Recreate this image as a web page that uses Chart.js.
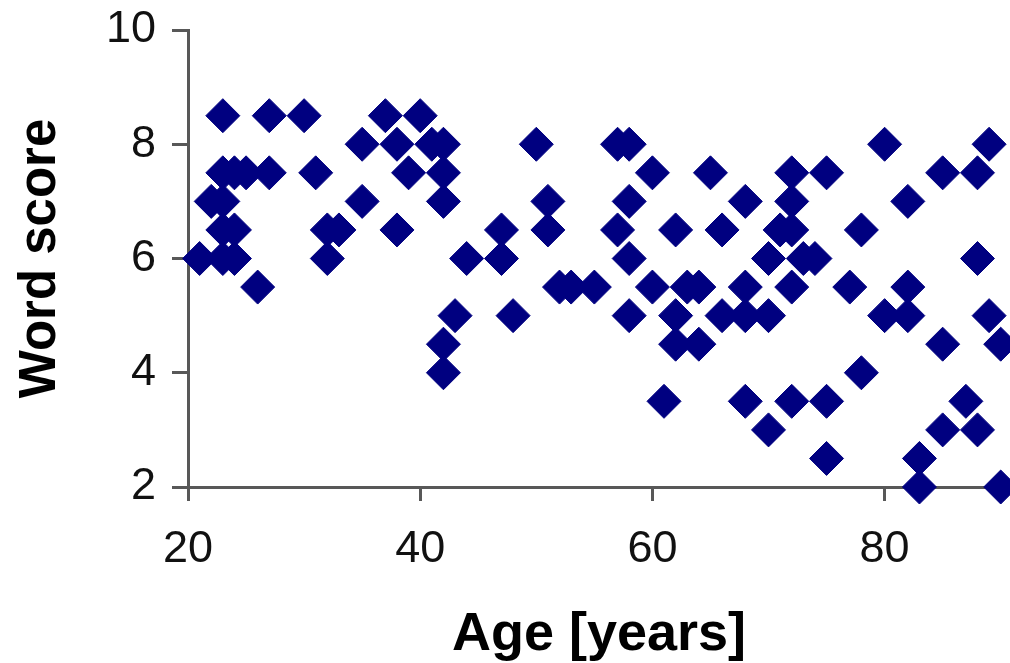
<!DOCTYPE html>
<html>
<head>
<meta charset="utf-8">
<script src="https://cdn.jsdelivr.net/npm/chart.js@4/dist/chart.umd.min.js"></script>
<style>
  html, body { margin: 0; padding: 0; background: #ffffff; }
  #wrap { width: 1010px; height: 663px; position: relative; }
</style>
</head>
<body>
<div id="wrap"><canvas id="c"></canvas></div>
<script>
// ---- data ----
const ages = [
  21, 23, 24, 23, 24, 22, 23, 23, 24, 25, 27, 23, 27, 30, 26, 31, 32, 33, 32,
  35, 35, 37, 40, 38, 38, 39, 41, 42, 42, 42, 42, 42, 43, 44, 47, 47, 48,
  50, 51, 51, 52, 53, 55, 57, 58, 57, 58, 58, 58, 60, 60, 61, 62, 62, 62,
  63, 64, 64, 65, 66, 66, 68, 68, 68, 68, 70, 70, 70, 71, 72, 72, 72, 72, 72,
  73, 74, 75, 75, 75, 77, 78, 78, 80, 80, 82, 82, 82, 83, 83, 85, 85, 85,
  87, 88, 88, 88, 89, 89, 90, 90
];
const wordScores = [
  6, 6, 6, 6.5, 6.5, 7, 7, 7.5, 7.5, 7.5, 7.5, 8.5, 8.5, 8.5, 5.5, 7.5, 6.5, 6.5, 6,
  8, 7, 8.5, 8.5, 8, 6.5, 7.5, 8, 8, 7.5, 7, 4.5, 4, 5, 6, 6.5, 6, 5,
  8, 7, 6.5, 5.5, 5.5, 5.5, 8, 8, 6.5, 7, 6, 5, 7.5, 5.5, 3.5, 6.5, 5, 4.5,
  5.5, 5.5, 4.5, 7.5, 6.5, 5, 7, 5.5, 5, 3.5, 6, 5, 3, 6.5, 6.5, 7.5, 7, 5.5, 3.5,
  6, 6, 7.5, 3.5, 2.5, 5.5, 6.5, 4, 8, 5, 7, 5.5, 5, 2.5, 2, 7.5, 4.5, 3,
  3.5, 7.5, 6, 3, 8, 5, 4.5, 2
];
const xTicks = [20, 40, 60, 80];
const yTicks = [2, 4, 6, 8, 10];
const xTitle = 'Age [years]';
const yTitle = 'Word score';

const points = ages.map((a, i) => ({ x: a, y: wordScores[i] }));

const axisColor = '#585858';
const tickFamily = "'Liberation Sans', Arial, sans-serif";

new Chart(document.getElementById('c'), {
  type: 'scatter',
  data: {
    datasets: [{
      data: points,
      pointStyle: 'rectRot',
      pointRadius: 17,
      pointHoverRadius: 17,
      backgroundColor: '#000080',
      borderColor: '#000080',
      borderWidth: 1,
      clip: false
    }]
  },
  options: {
    responsive: true,
    maintainAspectRatio: false,
    animation: false,
    events: [],
    layout: { autoPadding: false, padding: { top: 30, right: 0, bottom: 0, left: 0 } },
    plugins: { legend: { display: false }, tooltip: { enabled: false } },
    scales: {
      x: {
        type: 'linear',
        min: 20,
        max: 90.8,
        afterBuildTicks: s => { s.ticks = xTicks.map(v => ({ value: v })); },
        afterFit: s => { s.height = 176; },
        grid: { display: true, drawOnChartArea: false, drawTicks: true, tickLength: 14, tickColor: axisColor, tickWidth: 3 },
        border: { display: true, color: axisColor, width: 3 },
        ticks: { color: '#111', font: { family: tickFamily, size: 45 }, padding: 22, maxRotation: 0, autoSkip: false },
        title: {
          display: true, text: xTitle, color: '#000',
          font: { family: "'Liberation Sans', Arial, sans-serif", size: 54, weight: 'bold', lineHeight: 1 },
          padding: { top: 0, bottom: 1 }
        }
      },
      y: {
        type: 'linear',
        min: 2,
        max: 10,
        afterBuildTicks: s => { s.ticks = yTicks.map(v => ({ value: v })); },
        afterFit: s => { s.width = 188; },
        grid: { display: true, drawOnChartArea: false, drawTicks: true, tickLength: 16, tickColor: axisColor, tickWidth: 3 },
        border: { display: true, color: axisColor, width: 3 },
        ticks: { color: '#111', font: { family: tickFamily, size: 45, lineHeight: 0.5 }, padding: 16, autoSkip: false },
        title: {
          display: true, text: yTitle, color: '#000',
          font: { family: "'Liberation Sans', Arial, sans-serif", size: 51, weight: 'bold', lineHeight: 1 },
          padding: { top: 15, bottom: 0 }
        }
      }
    }
  }
});
</script>
</body>
</html>
